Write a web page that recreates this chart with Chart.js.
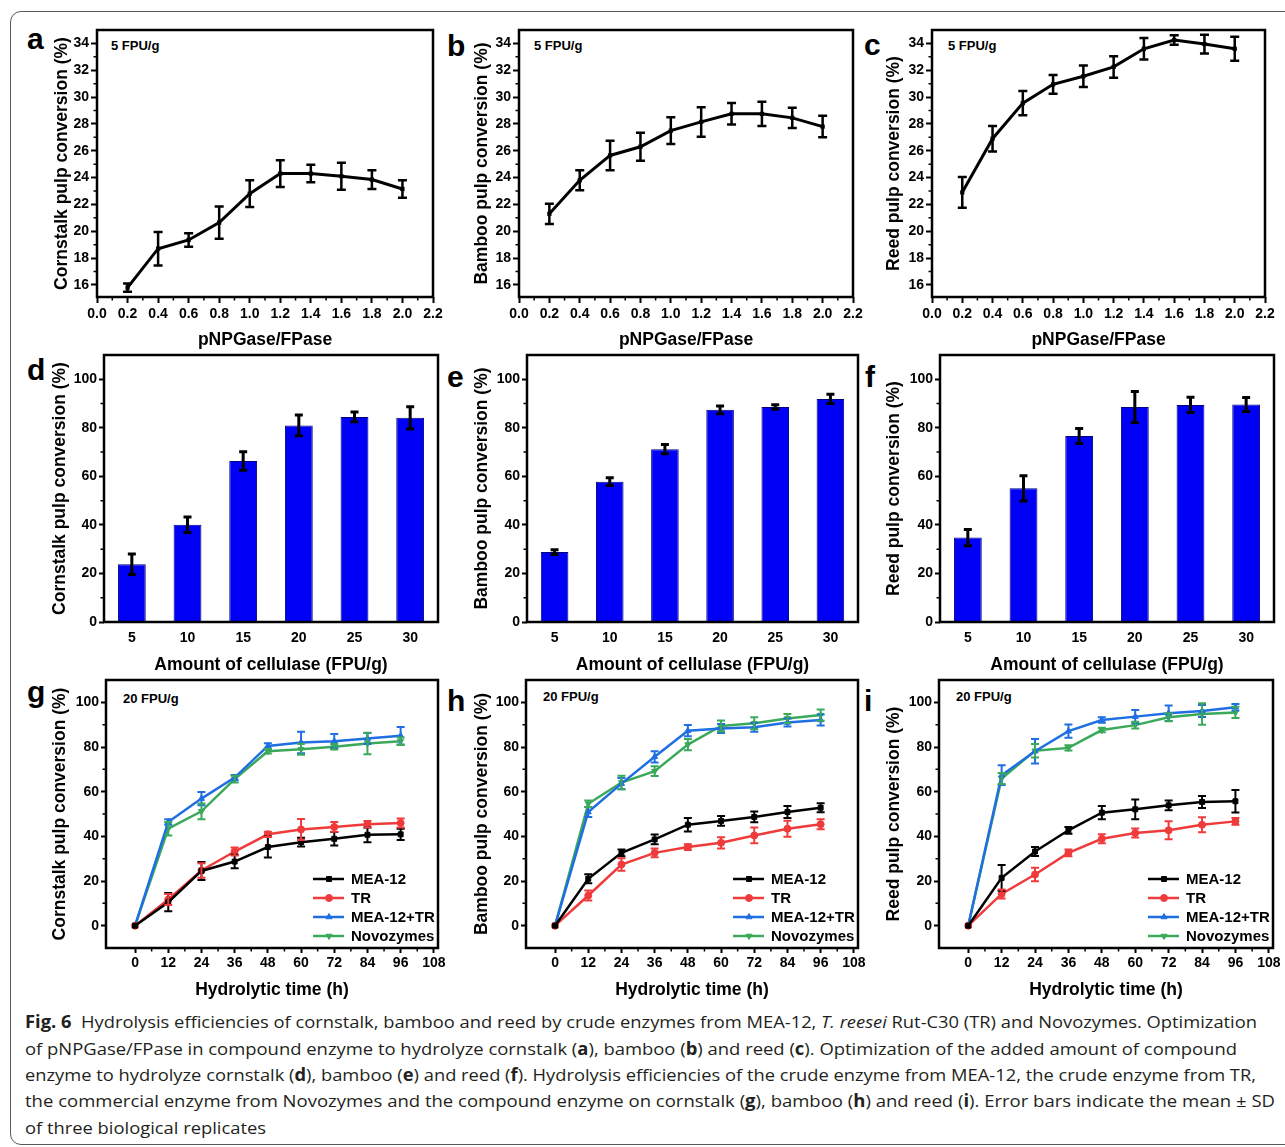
<!DOCTYPE html>
<html><head><meta charset="utf-8">
<script src="https://cdn.jsdelivr.net/npm/chart.js@4.4.1/dist/chart.umd.min.js"></script>
<style>
html,body{margin:0;padding:0;background:#fff;overflow:hidden;width:1285px;height:1147px;position:relative;}
#frame{position:absolute;left:10px;top:11px;width:1300px;height:1134px;border:1px solid #5a5a5a;border-radius:11px;box-sizing:border-box;}
canvas{position:absolute;}
.lbl{position:absolute;font-family:'Liberation Sans',Arial,sans-serif;font-weight:bold;color:#000;line-height:1;white-space:nowrap;}
.letter{font-size:30px;}
.fpu{font-size:13px;}
.cap{position:absolute;left:25px;font-family:'Open Sans','Noto Sans',sans-serif;font-size:17px;color:#231f20;white-space:nowrap;transform-origin:0 50%;line-height:20px;}
.cap b{font-weight:bold;}
</style></head><body>
<div id="frame"></div>

<div class="lbl letter" style="left:27px;top:24px">a</div>
<div class="lbl letter" style="left:447px;top:31px">b</div>
<div class="lbl letter" style="left:864px;top:30px">c</div>
<div class="lbl letter" style="left:27px;top:355px">d</div>
<div class="lbl letter" style="left:447px;top:362px">e</div>
<div class="lbl letter" style="left:865px;top:362px">f</div>
<div class="lbl letter" style="left:27px;top:677px">g</div>
<div class="lbl letter" style="left:447px;top:686px">h</div>
<div class="lbl letter" style="left:864px;top:686px">i</div>

<div class="lbl fpu" style="left:111px;top:39px">5 FPU/g</div>
<div class="lbl fpu" style="left:534px;top:39px">5 FPU/g</div>
<div class="lbl fpu" style="left:948px;top:39px">5 FPU/g</div>
<div class="lbl fpu" style="left:123px;top:692px">20 FPU/g</div>
<div class="lbl fpu" style="left:543px;top:690px">20 FPU/g</div>
<div class="lbl fpu" style="left:956px;top:690px">20 FPU/g</div>

<div class="cap" data-w="1232" style="top:1012px"><b>Fig. 6</b>&nbsp; Hydrolysis efficiencies of cornstalk, bamboo and reed by crude enzymes from MEA-12, <i>T. reesei</i> Rut-C30 (TR) and Novozymes. Optimization</div>
<div class="cap" data-w="1212" style="top:1039px">of pNPGase/FPase in compound enzyme to hydrolyze cornstalk (<b>a</b>), bamboo (<b>b</b>) and reed (<b>c</b>). Optimization of the added amount of compound</div>
<div class="cap" data-w="1231" style="top:1065px">enzyme to hydrolyze cornstalk (<b>d</b>), bamboo (<b>e</b>) and reed (<b>f</b>). Hydrolysis efficiencies of the crude enzyme from MEA-12, the crude enzyme from TR,</div>
<div class="cap" data-w="1250" style="top:1091px">the commercial enzyme from Novozymes and the compound enzyme on cornstalk (<b>g</b>), bamboo (<b>h</b>) and reed (<b>i</b>). Error bars indicate the mean ± SD</div>
<div class="cap" data-w="241" style="top:1118px">of three biological replicates</div>

<script>
// ---------------- DATA ----------------
const ratioX = [0.2, 0.4, 0.6, 0.8, 1.0, 1.2, 1.4, 1.6, 1.8, 2.0];
const cornRatio = [15.8, 18.7, 19.35, 20.65, 22.8, 24.3, 24.3, 24.1, 23.85, 23.15];
const cornRatioErr = [0.3, 1.25, 0.5, 1.2, 1.0, 1.0, 0.65, 1.0, 0.7, 0.65];
const bambooRatio = [21.3, 23.8, 25.65, 26.3, 27.5, 28.15, 28.75, 28.75, 28.45, 27.8];
const bambooRatioErr = [0.75, 0.75, 1.1, 1.05, 1.0, 1.1, 0.8, 0.9, 0.75, 0.8];
const reedRatio = [22.9, 26.9, 29.55, 30.95, 31.55, 32.25, 33.6, 34.25, 33.95, 33.6];
const reedRatioErr = [1.15, 0.95, 0.9, 0.7, 0.8, 0.8, 0.8, 0.35, 0.7, 0.9];

const dosage = ['5', '10', '15', '20', '25', '30'];
const cornDose = [23.8, 40.1, 66.3, 81.0, 84.5, 84.1];
const cornDoseErr = [4.2, 3.2, 3.8, 4.3, 2.0, 4.6];
const bambooDose = [28.8, 57.8, 71.2, 87.4, 88.6, 91.9];
const bambooDoseErr = [1.0, 1.6, 1.9, 1.6, 0.9, 1.9];
const reedDose = [34.8, 55.1, 76.6, 88.6, 89.45, 89.6];
const reedDoseErr = [3.35, 5.2, 3.1, 6.4, 3.15, 2.9];

const hours = [0, 12, 24, 36, 48, 60, 72, 84, 96];
const seriesNames = ['MEA-12', 'TR', 'MEA-12+TR', 'Novozymes'];
// cornstalk (g)
const cornMEA = [0, 10.5, 24.5, 28.7, 35.2, 37.4, 38.9, 40.7, 40.9];
const cornMEAErr = [0, 4.1, 4, 3, 4.7, 2, 3, 3.3, 2.5];
const cornTR = [0, 11.7, 24.7, 33.2, 40.9, 43.1, 44.2, 45.4, 46.0];
const cornTRErr = [0, 2.5, 3.3, 1.8, 1.2, 4.7, 2.2, 1.5, 2];
const cornMix = [0, 46.4, 56.9, 66.3, 80.5, 82.0, 82.6, 83.8, 85.0];
const cornMixErr = [0, 1.2, 3, 1.2, 1.2, 4.8, 3.2, 2.5, 3.9];
const cornNovo = [0, 43.4, 51.2, 65.6, 78.1, 79.0, 80.1, 81.6, 82.6];
const cornNovoErr = [0, 3, 3.5, 1.5, 1, 2.5, 1.2, 4.8, 1.7];
// bamboo (h)
const bambooMEA = [0, 21.0, 32.6, 38.6, 45.2, 46.9, 48.7, 50.9, 52.8];
const bambooMEAErr = [0, 2, 1.5, 2.2, 3, 2.2, 2.4, 2.7, 2];
const bambooTR = [0, 13.5, 27.4, 32.6, 35.2, 37.1, 40.4, 43.4, 45.4];
const bambooTRErr = [0, 2.2, 2.8, 2, 1.3, 2.5, 3.5, 3.6, 2.2];
const bambooMix = [0, 50.9, 63.6, 75.6, 87.3, 88.3, 88.8, 91.0, 92.1];
const bambooMixErr = [0, 2.2, 2.5, 2.5, 2.5, 2, 2, 1.8, 2.5];
const bambooNovo = [0, 54.6, 64.1, 69.2, 81.1, 89.4, 90.6, 92.8, 94.3];
const bambooNovoErr = [0, 1.5, 3, 2.2, 2.5, 2.5, 2.7, 2, 2.5];
// reed (i)
const reedMEA = [0, 21.4, 33.2, 42.7, 50.6, 52.1, 53.9, 55.4, 55.7];
const reedMEAErr = [0, 5.8, 2, 1.5, 3, 4.4, 2.2, 2.7, 5];
const reedTR = [0, 14.2, 22.9, 32.6, 38.9, 41.5, 42.7, 45.2, 46.7];
const reedTRErr = [0, 2, 3, 1.5, 2, 2, 4, 3.4, 1.5];
const reedMix = [0, 67.4, 78.1, 87.1, 92.1, 93.6, 95.1, 96.1, 97.8];
const reedMixErr = [0, 4.4, 5.5, 3, 1.2, 3, 3.5, 2.7, 1.5];
const reedNovo = [0, 65.9, 78.3, 79.6, 87.6, 89.8, 93.3, 94.8, 95.5];
const reedNovoErr = [0, 2.5, 3, 1.2, 1, 1.5, 1.8, 4.8, 2.5];

// tick labels
const ratioXTicks = [0, 0.2, 0.4, 0.6, 0.8, 1.0, 1.2, 1.4, 1.6, 1.8, 2.0, 2.2];
const ratioXMinor = [0.1, 0.3, 0.5, 0.7, 0.9, 1.1, 1.3, 1.5, 1.7, 1.9, 2.1];
const ratioYTicks = [16, 18, 20, 22, 24, 26, 28, 30, 32, 34];
const ratioYMinor = [17, 19, 21, 23, 25, 27, 29, 31, 33];
const doseYTicks = [0, 20, 40, 60, 80, 100];
const doseYMinor = [10, 30, 50, 70, 90];
const timeXTicks = [0, 12, 24, 36, 48, 60, 72, 84, 96, 108];
const timeXMinor = [6, 18, 30, 42, 54, 66, 78, 90, 102];
const timeYTicks = [0, 20, 40, 60, 80, 100];
const timeYMinor = [10, 30, 50, 70, 90];

// ---------------- STYLE ----------------
const FONT = "'Liberation Sans', Arial, sans-serif";
Chart.defaults.font.family = FONT;
Chart.defaults.font.weight = 'bold';
Chart.defaults.color = '#000';
const COLORS = ['#000000', '#ef3b3b', '#1f6fe2', '#3aa95a'];
const STYLES = ['rect', 'circle', 'triangle', 'triangle'];
const ROTS = [0, 0, 0, 180];

const boxPlugin = {
  id: 'boxPlugin',
  afterDraw(chart, args, o) {
    const {ctx, chartArea: a} = chart;
    ctx.save();
    ctx.strokeStyle = '#000';
    ctx.lineWidth = 2.5;
    ctx.strokeRect(a.left, a.top, a.right - a.left, a.bottom - a.top);
    ctx.lineWidth = 1.5;
    ctx.beginPath();
    (o.minorX || []).forEach(v => {
      const x = chart.scales.x.getPixelForValue(v);
      ctx.moveTo(x, a.bottom); ctx.lineTo(x, a.bottom + 3.5);
    });
    (o.minorY || []).forEach(v => {
      const y = chart.scales.y.getPixelForValue(v);
      ctx.moveTo(a.left, y); ctx.lineTo(a.left - 3.5, y);
    });
    ctx.stroke();
    ctx.restore();
  }
};

const errPlugin = {
  id: 'errPlugin',
  afterDatasetsDraw(chart) {
    const ctx = chart.ctx, ys = chart.scales.y;
    chart.data.datasets.forEach((ds, di) => {
      if (!ds.errors) return;
      const meta = chart.getDatasetMeta(di);
      ctx.save();
      ctx.strokeStyle = ds.errColor || ds.borderColor;
      ctx.lineWidth = ds.errWidth || 2;
      const cw = ds.capWidth || 8;
      meta.data.forEach((el, i) => {
        const e = ds.errors[i];
        if (!e) return;
        const d = ds.data[i];
        const v = typeof d === 'object' ? d.y : d;
        const x = el.x;
        const y1 = ys.getPixelForValue(v + e), y2 = ys.getPixelForValue(v - e);
        ctx.beginPath();
        ctx.moveTo(x, y1); ctx.lineTo(x, y2);
        ctx.moveTo(x - cw / 2, y1); ctx.lineTo(x + cw / 2, y1);
        ctx.moveTo(x - cw / 2, y2); ctx.lineTo(x + cw / 2, y2);
        ctx.stroke();
      });
      ctx.restore();
    });
  }
};

const legendPlugin = {
  id: 'seriesLegend',
  afterDraw(chart, args, o) {
    if (!o || !o.show) return;
    const {ctx, chartArea: a} = chart;
    const dss = chart.data.datasets;
    const n = dss.length;
    const tx = a.right - 87;
    dss.forEach((ds, k) => {
      const y = a.bottom - 12 - (n - 1 - k) * 19;
      ctx.save();
      ctx.strokeStyle = ds.borderColor; ctx.lineWidth = 2.5;
      ctx.beginPath(); ctx.moveTo(tx - 38, y); ctx.lineTo(tx - 7, y); ctx.stroke();
      ctx.fillStyle = ds.backgroundColor; ctx.strokeStyle = ds.borderColor; ctx.lineWidth = 1;
      Chart.helpers.drawPoint(ctx, {pointStyle: ds.pointStyle, radius: 3.5, rotation: ds.pointRotation || 0, borderWidth: 1}, tx - 22, y);
      ctx.fillStyle = '#000';
      ctx.font = "bold 15px " + FONT;
      ctx.textBaseline = 'middle'; ctx.textAlign = 'left';
      ctx.fillText(ds.label, tx, y + 1);
      ctx.restore();
    });
  }
};

function build(s) {
  const c = document.createElement('canvas');
  const W = s.cr - s.cl, H = s.cb - s.ct;
  c.width = W; c.height = H;
  c.style.left = s.cl + 'px'; c.style.top = s.ct + 'px';
  c.style.width = W + 'px'; c.style.height = H + 'px';
  document.body.appendChild(c);
  const yW = s.pl - s.cl, xH = s.cb - s.pb;
  const isBar = s.type === 'bar';
  const xScale = isBar ? {
    type: 'category',
    offset: true,
    grid: {display: true, drawOnChartArea: false, drawTicks: true, tickLength: 5, tickColor: 'rgba(0,0,0,0)', offset: true},
    border: {display: false},
    ticks: {font: {size: 14, weight: 'bold'}, padding: 3, color: '#000'},
    title: {display: true, text: s.xTitle, font: {size: 17.5, weight: 'bold'}, padding: {top: 0, bottom: 0}, color: '#000'},
    afterFit: sc => { sc.height = xH; }
  } : {
    type: 'linear', min: s.xMin, max: s.xMax,
    grid: {display: true, drawOnChartArea: false, drawTicks: true, tickLength: s.xTick, tickWidth: 2, tickColor: '#000'},
    border: {display: false},
    ticks: {font: {size: 14, weight: 'bold'}, padding: s.xPad, color: '#000', autoSkip: false, maxRotation: 0,
            callback: s.xFmt},
    afterBuildTicks: sc => { sc.ticks = s.xTicks.map(v => ({value: v})); },
    title: {display: true, text: s.xTitle, font: {size: 17.5, weight: 'bold'}, padding: {top: 0, bottom: 0}, color: '#000'},
    afterFit: sc => { sc.height = xH; }
  };
  new Chart(c, {
    type: s.type,
    data: {labels: s.labels, datasets: s.datasets},
    options: {
      responsive: false, animation: false, devicePixelRatio: 1,
      layout: {padding: {left: 0, top: s.pt - s.ct, right: s.cr - s.pr, bottom: 0}},
      plugins: {legend: {display: false}, tooltip: {enabled: false},
                boxPlugin: {minorX: s.minorX, minorY: s.minorY},
                seriesLegend: {show: !!s.legend}},
      scales: {
        x: xScale,
        y: {
          type: 'linear', min: s.yMin, max: s.yMax,
          grid: {display: true, drawOnChartArea: false, drawTicks: true, tickLength: s.yTick, tickWidth: 2, tickColor: '#000'},
          border: {display: false},
          ticks: {font: {size: 14, weight: 'bold'}, padding: 2, color: '#000'},
          afterBuildTicks: sc => { sc.ticks = s.yTicks.map(v => ({value: v})); },
          title: {display: true, text: s.yTitle, font: {size: 17.5, weight: 'bold'}, padding: {top: 0, bottom: 0}, color: '#000'},
          afterFit: sc => { sc.width = yW; }
        }
      }
    },
    plugins: [boxPlugin, errPlugin, legendPlugin]
  });
}

function ratioSet(vals, errs) {
  return [{
    data: ratioX.map((x, i) => ({x: x, y: vals[i]})),
    errors: errs,
    borderColor: '#000', backgroundColor: '#000', borderWidth: 3,
    pointStyle: 'rect', pointRadius: 3, pointBorderWidth: 0,
    errWidth: 2.5, capWidth: 9, tension: 0
  }];
}
function doseSet(vals, errs) {
  return [{
    data: vals, errors: errs,
    backgroundColor: '#0000f6', borderColor: '#00007a', borderWidth: 1,
    barPercentage: 0.5, categoryPercentage: 1.0,
    errColor: '#000', errWidth: 3, capWidth: 8
  }];
}
function timeSets(groups) {
  return groups.map((g, k) => ({
    label: seriesNames[k],
    data: hours.map((h, i) => ({x: h, y: g[0][i]})),
    errors: g[1],
    borderColor: COLORS[k], backgroundColor: COLORS[k], borderWidth: 2.5,
    pointStyle: STYLES[k], pointRotation: ROTS[k], pointRadius: 3.5, pointBorderWidth: 1,
    errWidth: 2, capWidth: 8, tension: 0
  }));
}

const fmt1 = v => Number(v).toFixed(1);
const fmt0 = v => String(v);

const ratioCommon = {type: 'line', xMin: 0, xMax: 2.2, yMin: 15.1, yMax: 35, xTicks: ratioXTicks, yTicks: ratioYTicks,
  minorX: ratioXMinor, minorY: ratioYMinor, xFmt: fmt1, xTick: 6, xPad: 3, yTick: 6, xTitle: 'pNPGase/FPase',
  ct: 18, cb: 351, pt: 30, pb: 297};
build(Object.assign({}, ratioCommon, {cl: 52, pl: 97, pr: 433, cr: 448, yTitle: 'Cornstalk pulp conversion (%)', datasets: ratioSet(cornRatio, cornRatioErr)}));
build(Object.assign({}, ratioCommon, {cl: 472, pl: 519, pr: 853, cr: 868, yTitle: 'Bamboo pulp conversion (%)', datasets: ratioSet(bambooRatio, bambooRatioErr)}));
build(Object.assign({}, ratioCommon, {cl: 884, pl: 932, pr: 1265, cr: 1280, yTitle: 'Reed pulp conversion (%)', datasets: ratioSet(reedRatio, reedRatioErr)}));

const doseCommon = {type: 'bar', labels: dosage, yMin: 0, yMax: 110, yTicks: doseYTicks, minorY: doseYMinor, yTick: 5,
  xTitle: 'Amount of cellulase (FPU/g)', ct: 343, cb: 676, pt: 355, pb: 622};
build(Object.assign({}, doseCommon, {cl: 50, pl: 104, pr: 438, cr: 450, yTitle: 'Cornstalk pulp conversion (%)', datasets: doseSet(cornDose, cornDoseErr)}));
build(Object.assign({}, doseCommon, {cl: 472, pl: 527, pr: 858, cr: 870, yTitle: 'Bamboo pulp conversion (%)', datasets: doseSet(bambooDose, bambooDoseErr)}));
build(Object.assign({}, doseCommon, {cl: 884, pl: 940, pr: 1274, cr: 1285, yTitle: 'Reed pulp conversion (%)', datasets: doseSet(reedDose, reedDoseErr)}));

const timeCommon = {type: 'line', xMin: -10.5, xMax: 109.5, yMin: -10, yMax: 110, xTicks: timeXTicks, yTicks: timeYTicks,
  minorX: timeXMinor, minorY: timeYMinor, xFmt: fmt0, xTick: 5, xPad: 2, yTick: 5, xTitle: 'Hydrolytic time (h)', legend: true,
  ct: 668, cb: 1001, pt: 680, pb: 948};
build(Object.assign({}, timeCommon, {cl: 50, pl: 106, pr: 438, cr: 450, yTitle: 'Cornstalk pulp conversion (%)',
  datasets: timeSets([[cornMEA, cornMEAErr], [cornTR, cornTRErr], [cornMix, cornMixErr], [cornNovo, cornNovoErr]])}));
build(Object.assign({}, timeCommon, {cl: 472, pl: 526, pr: 858, cr: 870, yTitle: 'Bamboo pulp conversion (%)',
  datasets: timeSets([[bambooMEA, bambooMEAErr], [bambooTR, bambooTRErr], [bambooMix, bambooMixErr], [bambooNovo, bambooNovoErr]])}));
build(Object.assign({}, timeCommon, {cl: 884, pl: 939, pr: 1273, cr: 1285, yTitle: 'Reed pulp conversion (%)',
  datasets: timeSets([[reedMEA, reedMEAErr], [reedTR, reedTRErr], [reedMix, reedMixErr], [reedNovo, reedNovoErr]])}));

function fitCaption() {
  document.querySelectorAll('.cap').forEach(el => {
    el.style.transform = 'none';
    const w = el.getBoundingClientRect().width;
    const t = +el.dataset.w;
    if (w > 0) el.style.transform = 'scaleX(' + (t / w) + ')';
  });
}
fitCaption();
if (document.fonts && document.fonts.ready) document.fonts.ready.then(fitCaption);
</script>
</body></html>
